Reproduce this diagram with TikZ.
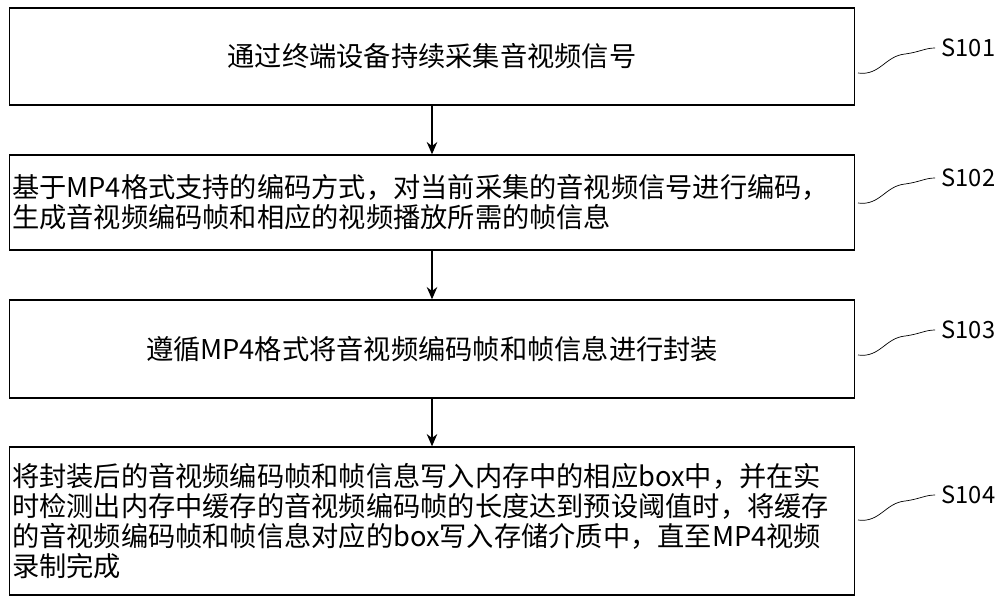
\documentclass[tikz,border=0pt]{standalone}
\usepackage{fontspec}
\setmainfont{Noto Sans CJK SC}
\usetikzlibrary{arrows.meta,positioning}

\begin{document}
\begin{tikzpicture}
[x=0.02cm,y=0.02cm,>={Stealth[length=7pt,width=6pt]},thick,
  step box/.style={draw,minimum width=16.9cm,inner sep=0pt,font=\fontsize{15.5pt}{17pt}\selectfont},
  step label/.style={font=\fontsize{13.5pt}{14pt}\selectfont,anchor=west}]

  \useasboundingbox (0,0) rectangle (1000,-603);

  \node [step box,minimum height=1.94cm] (s1) at (432,-56.5) {通过终端设备持续采集音视频信号};
  \node [step box,minimum height=1.9cm,align=left,text width=16.8cm] (s2) at (432,-202.5)
    {基于MP4格式支持的编码方式，对当前采集的音视频信号进行编码，\\生成音视频编码帧和相应的视频播放所需的帧信息};
  \node [step box,minimum height=1.96cm] (s3) at (432,-349) {遵循MP4格式将音视频编码帧和帧信息进行封装};
  \node [step box,minimum height=2.96cm,align=left,text width=16.8cm] (s4) at (432,-521)
    {将封装后的音视频编码帧和帧信息写入内存中的相应box中，并在实\\时检测出内存中缓存的音视频编码帧的长度达到预设阈值时，将缓存\\的音视频编码帧和帧信息对应的box写入存储介质中，直至MP4视频\\录制完成};

  \foreach \from/\to in {s1/s2,s2/s3,s3/s4}
    \draw [->] (\from) -- (\to);

  % labels with wavy leaders
  \foreach \n/\y in {1/-48,2/-178,3/-330,4/-495} {
    \node [step label] (l\n) at (935,\y) {S10\n};
    \draw [thin] (858,\y-25) .. controls (880,\y-28) and (885,\y-8) .. (905,\y-6)
      .. controls (920,\y-4) and (925,\y) .. (l\n.west);
  }
\end{tikzpicture}
\end{document}
